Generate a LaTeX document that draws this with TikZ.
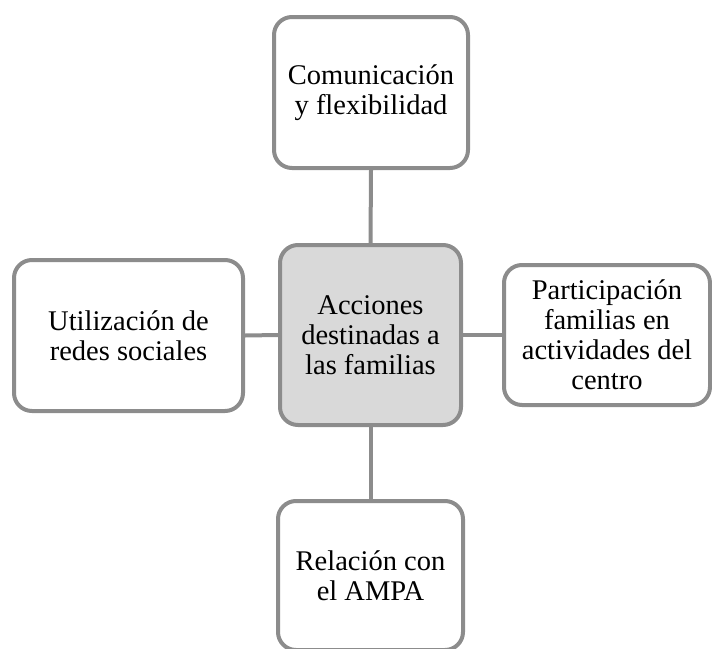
\documentclass[tikz,border=0pt]{standalone}
\usepackage{fontspec}
\setmainfont{Liberation Serif}
\definecolor{edgegray}{HTML}{8C8C8C}
\definecolor{hubfill}{HTML}{D9D9D9}
\tikzset{
  box/.style={draw=edgegray, line width=4pt, rounded corners=18pt, fill=white,
    align=center, inner sep=0pt,
    font=\fontsize{28.5pt}{30pt}\selectfont},
  hub/.style={box, fill=hubfill},
  link/.style={draw=edgegray, line width=4pt}
}
\begin{document}
\begin{tikzpicture}[x=1pt,y=-1pt]
\useasboundingbox (0,0) rectangle (712,648);
\node[box, minimum width=194pt, minimum height=151pt] (top) at (371,92.5) {Comunicación\\y flexibilidad};
\node[hub, minimum width=181pt, minimum height=180pt] (hub) at (370.5,335) {Acciones\\destinadas a\\las familias};
\node[box, minimum width=229pt, minimum height=151pt] (left) at (128.5,335.5) {Utilización de\\redes sociales};
\node[box, minimum width=206pt, minimum height=140pt] (right) at (607,335) {Participación\\familias en\\actividades del\\centro};
\node[box, minimum width=185pt, minimum height=149pt] (bottom) at (370.5,575.5) {Relación con\\el AMPA};
\draw[link] (top.south) -- (hub.north);
\draw[link] (hub.south) -- (bottom.north);
\draw[link] (left.east) -- (hub.west);
\draw[link] (hub.east) -- (right.west);
\end{tikzpicture}
\end{document}
